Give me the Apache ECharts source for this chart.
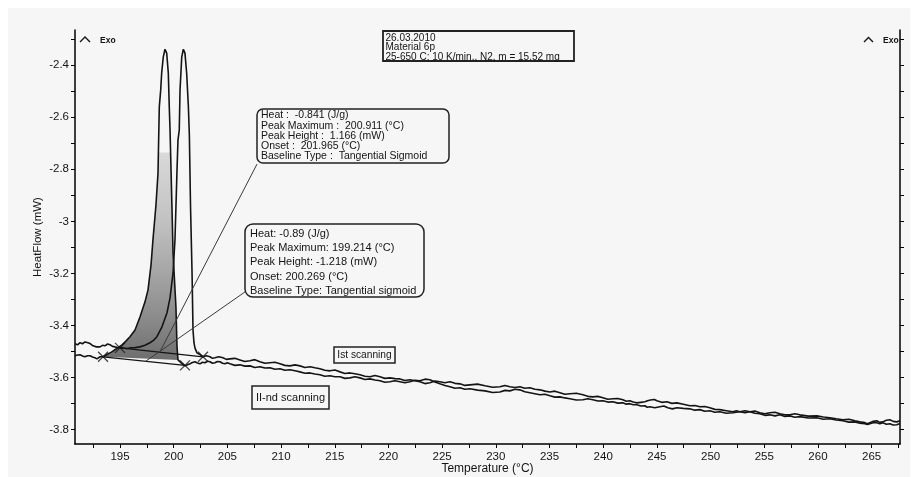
<!DOCTYPE html>
<html>
<head>
<meta charset="utf-8">
<title>DSC – Material 6p</title>
<script src="https://cdn.jsdelivr.net/npm/echarts@6/dist/echarts.min.js"></script>
<style>
  html, body { margin: 0; padding: 0; background: #ffffff; }
  #chart { width: 915px; height: 477px; }
</style>
</head>
<body>
<div id="chart"></div>
<script>
// Axis ticks and labels
const xLabelValues = [195, 200, 205, 210, 215, 220, 225, 230, 235, 240, 245, 250, 255, 260, 265];
const xTickValues = [192.5, 195, 197.5, 200, 202.5, 205, 207.5, 210, 212.5, 215, 217.5, 220, 222.5, 225, 227.5,
  230, 232.5, 235, 237.5, 240, 242.5, 245, 247.5, 250, 252.5, 255, 257.5, 260, 262.5, 265, 267.5];
const yLabelValues = [-3.8, -3.6, -3.4, -3.2, -3, -2.8, -2.6, -2.4];
const yTickValues = [-3.8, -3.7, -3.6, -3.5, -3.4, -3.3, -3.2, -3.1, -3, -2.9, -2.8, -2.7, -2.6, -2.5, -2.4, -2.3];

// Ist scanning: temperature (°C) and heat flow (mW)
const scanITemp = [190.81,191.05,191.28,191.51,191.74,192.02,192.25,192.49,192.80,193.14,193.37,193.60,193.84,194.07,194.30,194.53,194.90,195.28,195.60,195.93,196.40,196.86,197.33,197.79,198.12,198.44,198.91,199.38,199.66,199.94,200.12,200.21,200.31,200.40,200.52,200.59,200.75,200.90,201.05,201.21,201.37,201.46,201.57,201.71,201.80,201.89,201.98,202.17,202.45,202.73,203.05,203.38,203.61,203.84,204.20,204.59,204.90,205.24,205.70,206.17,206.63,207.10,207.56,208.03,208.50,208.97,209.43,209.90,210.36,210.83,211.30,211.76,212.22,212.69,213.15,213.62,214.08,214.55,215.02,215.49,215.95,216.42,216.88,217.35,217.81,218.28,218.75,219.21,219.67,220.14,220.60,221.07,221.53,222.00,222.46,222.93,223.40,223.86,224.33,224.79,225.26,225.73,226.20,226.66,227.12,227.59,228.30,228.99,229.70,230.38,230.85,231.31,231.78,232.24,232.70,233.17,233.64,234.11,234.57,235.04,235.50,235.97,236.43,236.90,237.50,238.11,238.57,239.04,239.50,239.97,240.43,240.90,241.36,241.83,242.15,242.48,242.80,243.14,243.50,243.88,244.20,244.53,244.77,245.00,245.46,245.93,246.40,246.86,247.46,248.07,248.53,249.00,249.46,249.93,250.40,250.86,251.47,252.08,252.40,252.73,253.20,253.66,254.12,254.59,255.05,255.52,256.00,256.45,256.92,257.38,257.85,258.32,259.10,259.90,260.50,261.11,261.70,262.32,262.88,263.44,263.90,264.37,264.60,264.83,265.15,265.48,265.76,266.04,266.37,266.70,267.00,267.34,267.64];
const scanIFlow = [-3.470,-3.474,-3.466,-3.470,-3.463,-3.466,-3.470,-3.478,-3.482,-3.482,-3.476,-3.478,-3.471,-3.474,-3.480,-3.482,-3.485,-3.486,-3.488,-3.486,-3.485,-3.482,-3.476,-3.466,-3.457,-3.443,-3.405,-3.351,-3.294,-3.198,-3.071,-2.945,-2.803,-2.688,-2.649,-2.496,-2.369,-2.339,-2.354,-2.431,-2.561,-2.669,-2.945,-3.198,-3.417,-3.466,-3.486,-3.505,-3.512,-3.520,-3.516,-3.520,-3.526,-3.524,-3.520,-3.524,-3.530,-3.528,-3.526,-3.532,-3.538,-3.535,-3.531,-3.539,-3.545,-3.543,-3.541,-3.547,-3.553,-3.555,-3.551,-3.555,-3.561,-3.558,-3.562,-3.566,-3.572,-3.574,-3.571,-3.578,-3.584,-3.582,-3.585,-3.589,-3.595,-3.597,-3.592,-3.597,-3.603,-3.601,-3.604,-3.605,-3.611,-3.608,-3.612,-3.616,-3.623,-3.620,-3.613,-3.616,-3.620,-3.616,-3.622,-3.624,-3.630,-3.628,-3.625,-3.631,-3.637,-3.635,-3.630,-3.635,-3.638,-3.635,-3.641,-3.639,-3.645,-3.647,-3.652,-3.655,-3.652,-3.658,-3.664,-3.662,-3.660,-3.666,-3.672,-3.674,-3.672,-3.677,-3.683,-3.681,-3.680,-3.685,-3.691,-3.689,-3.694,-3.697,-3.695,-3.693,-3.688,-3.685,-3.684,-3.689,-3.695,-3.693,-3.699,-3.697,-3.702,-3.708,-3.707,-3.712,-3.711,-3.716,-3.722,-3.723,-3.727,-3.731,-3.727,-3.731,-3.735,-3.731,-3.728,-3.735,-3.739,-3.735,-3.733,-3.739,-3.743,-3.743,-3.739,-3.743,-3.748,-3.747,-3.751,-3.754,-3.758,-3.762,-3.760,-3.766,-3.770,-3.773,-3.777,-3.773,-3.768,-3.766,-3.772,-3.770,-3.764,-3.762,-3.768,-3.770,-3.766];

// II-nd scanning: temperature (°C) and heat flow (mW)
const scanIITemp = [190.81,191.05,191.28,191.51,191.74,191.98,192.21,192.44,192.67,192.86,193.00,193.14,193.42,193.65,193.88,194.20,194.53,194.86,195.19,195.55,195.93,196.40,196.86,197.33,197.61,197.89,198.07,198.35,198.54,198.66,198.79,198.88,199.03,199.19,199.35,199.50,199.59,199.66,199.84,199.94,200.21,200.31,200.40,200.68,201.05,201.28,201.52,201.75,201.98,202.21,202.45,202.68,202.91,203.15,203.38,203.61,203.84,204.07,204.31,204.55,204.78,205.00,205.24,205.70,206.17,206.63,207.10,207.56,208.03,208.50,208.97,209.43,209.90,210.36,210.83,211.30,211.76,212.22,212.69,213.15,213.62,214.08,214.55,215.02,215.49,215.95,216.42,216.88,217.35,217.81,218.28,218.75,219.21,219.67,220.14,220.60,221.07,221.53,222.00,222.46,222.93,223.40,223.86,224.33,224.79,225.26,225.73,226.20,226.66,227.12,227.59,228.30,228.99,229.70,230.38,230.85,231.31,231.78,232.24,232.70,233.17,233.64,234.11,234.57,235.04,235.50,235.97,236.43,236.90,237.50,238.11,238.57,239.04,239.50,239.97,240.43,240.90,241.36,241.83,242.15,242.48,242.80,243.14,243.50,243.88,244.10,244.35,244.80,245.28,245.65,246.02,246.44,246.86,247.46,248.07,248.53,249.00,249.46,249.93,250.40,250.86,251.47,252.08,252.40,252.73,253.20,253.66,254.12,254.59,255.05,255.52,256.00,256.45,256.92,257.38,257.85,258.32,259.10,259.90,260.50,261.11,261.70,262.32,262.88,263.44,263.90,264.37,264.60,264.83,265.15,265.48,265.76,266.04,266.37,266.70,267.00,267.34,267.64];
const scanIIFlow = [-3.516,-3.513,-3.512,-3.517,-3.520,-3.516,-3.516,-3.521,-3.524,-3.528,-3.523,-3.520,-3.520,-3.515,-3.509,-3.502,-3.493,-3.484,-3.474,-3.460,-3.443,-3.417,-3.367,-3.309,-3.263,-3.167,-3.071,-2.937,-2.814,-2.561,-2.496,-2.431,-2.369,-2.339,-2.354,-2.431,-2.561,-2.649,-2.945,-3.121,-3.328,-3.482,-3.532,-3.543,-3.555,-3.551,-3.547,-3.542,-3.539,-3.544,-3.547,-3.541,-3.543,-3.537,-3.539,-3.545,-3.543,-3.538,-3.539,-3.545,-3.547,-3.543,-3.547,-3.553,-3.551,-3.556,-3.555,-3.561,-3.558,-3.563,-3.562,-3.568,-3.566,-3.572,-3.570,-3.574,-3.578,-3.583,-3.582,-3.586,-3.589,-3.595,-3.593,-3.597,-3.597,-3.603,-3.601,-3.597,-3.601,-3.607,-3.605,-3.609,-3.612,-3.618,-3.616,-3.612,-3.616,-3.620,-3.616,-3.610,-3.612,-3.606,-3.608,-3.617,-3.624,-3.630,-3.635,-3.641,-3.639,-3.645,-3.643,-3.648,-3.651,-3.657,-3.655,-3.649,-3.651,-3.645,-3.647,-3.654,-3.658,-3.662,-3.666,-3.664,-3.670,-3.675,-3.674,-3.678,-3.681,-3.686,-3.685,-3.681,-3.685,-3.690,-3.689,-3.694,-3.693,-3.698,-3.697,-3.702,-3.700,-3.704,-3.704,-3.709,-3.708,-3.714,-3.712,-3.716,-3.712,-3.709,-3.716,-3.720,-3.716,-3.718,-3.720,-3.725,-3.723,-3.729,-3.727,-3.733,-3.731,-3.737,-3.735,-3.733,-3.731,-3.727,-3.731,-3.737,-3.739,-3.745,-3.743,-3.747,-3.743,-3.749,-3.747,-3.752,-3.750,-3.755,-3.754,-3.760,-3.758,-3.763,-3.766,-3.771,-3.770,-3.775,-3.777,-3.780,-3.777,-3.773,-3.773,-3.777,-3.773,-3.779,-3.777,-3.782,-3.781,-3.776];

// Integration limits (start, end) of each evaluated peak
const peakIILimitTemp = [193.42, 201.05];
const peakIILimitFlow = [-3.520, -3.553];
const peakILimitTemp = [195.00, 202.73];
const peakILimitFlow = [-3.486, -3.520];

// Leader lines from the result boxes to the peaks
const leaderITemp = [207.76, 198.72];
const leaderIFlow = [-2.780, -3.501];
const leaderIITemp = [206.64, 197.33];
const leaderIIFlow = [-3.271, -3.539];

// Evaluation texts
const infoLines = ['26.03.2010', 'Material 6p', '25-650 C; 10 K/min., N2, m = 15.52 mg'];
const peakIResult = ['Heat :  -0.841 (J/g)', 'Peak Maximum :  200.911 (°C)', 'Peak Height :  1.166 (mW)',
  'Onset :  201.965 (°C)', 'Baseline Type :  Tangential Sigmoid'];
const peakIIResult = ['Heat: -0.89 (J/g)', 'Peak Maximum: 199.214 (°C)', 'Peak Height: -1.218 (mW)',
  'Onset: 200.269 (°C)', 'Baseline Type: Tangential sigmoid'];

const FONT = '"Liberation Sans", Arial, sans-serif';
const INK = '#141414';
const BG = '#f6f6f6';

function pairs(xs, ys) { return xs.map((x, i) => [x, ys[i]]); }

// area of the 199.2 °C peak between the curve and its integration line
const fillPoints = pairs(scanIITemp, scanIIFlow).filter(p => p[0] >= 193.42 && p[0] <= 200.40);

const chart = echarts.init(document.getElementById('chart'), null, { renderer: 'canvas' });

function textBlock(lines, x, y0, step, size) {
  return lines.map((t, i) => ({
    type: 'text', x: x, y: y0 + i * step, z: 50,
    style: { text: t, font: size + 'px ' + FONT, fill: INK, textVerticalAlign: 'middle' }
  }));
}

const xMin = 190.81, xMax = 267.64, yMin = -3.855, yMax = -2.265;

const crossPath = 'path://M0,0L10,10M10,0L0,10';

chart.setOption({
  backgroundColor: '#ffffff',
  animation: false,
  grid: { left: 75, right: 15, top: 30, bottom: 33, containLabel: false, outerBoundsMode: 'none' },
  xAxis: {
    type: 'value', min: xMin, max: xMax,
    name: 'Temperature (°C)', nameLocation: 'middle', nameGap: 25, nameMoveOverlap: false,
    nameTextStyle: { fontFamily: FONT, fontSize: 12, color: INK, verticalAlign: 'middle' },
    axisLine: { show: true, onZero: false, lineStyle: { color: '#000', width: 1.5 } },
    axisTick: { show: true, length: 4, customValues: xTickValues, lineStyle: { color: '#000' } },
    axisLabel: { customValues: xLabelValues, margin: 7, fontFamily: FONT, fontSize: 11.5, color: INK },
    splitLine: { show: false }
  },
  yAxis: [{
    type: 'value', min: yMin, max: yMax,
    name: 'HeatFlow (mW)', nameLocation: 'middle', nameGap: 31, nameRotate: 90, nameMoveOverlap: false,
    nameTextStyle: { fontFamily: FONT, fontSize: 11.5, color: INK },
    axisLine: { show: true, onZero: false, lineStyle: { color: '#000', width: 1.5 } },
    axisTick: { show: true, length: 4, customValues: yTickValues, lineStyle: { color: '#000' } },
    axisLabel: {
      customValues: yLabelValues, margin: 6, fontFamily: FONT, fontSize: 11.5, color: INK,
      formatter: v => String(+(+v).toFixed(1))
    },
    splitLine: { show: false }
  }, {
    type: 'value', min: yMin, max: yMax, position: 'right',
    axisLine: { show: true, onZero: false, lineStyle: { color: '#000', width: 1.5 } },
    axisTick: { show: true, length: 4, customValues: yTickValues, lineStyle: { color: '#000' } },
    axisLabel: { show: false },
    splitLine: { show: false }
  }],
  series: [
    {
      // shaded peak area
      type: 'custom', z: 1, silent: true,
      data: [fillPoints[0]],
      renderItem: function (params, api) {
        const pts = fillPoints.map(p => api.coord(p));
        return {
          type: 'polygon',
          shape: { points: pts },
          style: {
            fill: new echarts.graphic.LinearGradient(0, 0, 0, 1, [
              { offset: 0, color: BG }, { offset: 0.33, color: BG },
              { offset: 0.335, color: '#d9d9d9' }, { offset: 0.55, color: '#c2c2c2' },
              { offset: 0.75, color: '#a0a0a0' }, { offset: 0.88, color: '#888888' },
              { offset: 1, color: '#6e6e6e' }
            ]),
            stroke: null
          }
        };
      }
    },
    {
      name: 'II-nd scanning', type: 'line', z: 3, showSymbol: false, silent: true,
      data: pairs(scanIITemp, scanIIFlow),
      lineStyle: { color: INK, width: 1.6 }
    },
    {
      name: 'Ist scanning', type: 'line', z: 3, showSymbol: false, silent: true,
      data: pairs(scanITemp, scanIFlow),
      lineStyle: { color: INK, width: 1.6 }
    },
    {
      type: 'line', z: 3, showSymbol: false, silent: true,
      data: pairs(peakIILimitTemp, peakIILimitFlow),
      lineStyle: { color: INK, width: 1.3 }
    },
    {
      type: 'line', z: 3, showSymbol: false, silent: true,
      data: pairs(peakILimitTemp, peakILimitFlow),
      lineStyle: { color: INK, width: 1.3 }
    },
    {
      type: 'scatter', z: 4, silent: true,
      symbol: crossPath, symbolSize: 10,
      itemStyle: { color: 'none', borderColor: INK, borderWidth: 1.2 },
      data: pairs(peakIILimitTemp.concat(peakILimitTemp), peakIILimitFlow.concat(peakILimitFlow))
    },
    {
      type: 'line', z: 3, showSymbol: false, silent: true,
      data: pairs(leaderITemp, leaderIFlow),
      lineStyle: { color: '#3a3a3a', width: 1 }
    },
    {
      type: 'line', z: 3, showSymbol: false, silent: true,
      data: pairs(leaderIITemp, leaderIIFlow),
      lineStyle: { color: '#3a3a3a', width: 1 }
    }
  ],
  graphic: {
    elements: [
      { type: 'rect', z: -100, shape: { x: 8, y: 8, width: 902, height: 469 }, style: { fill: BG } },
      // Exo markers
      { type: 'polyline', z: 50, shape: { points: [[80, 42], [85, 37], [90, 42]] }, style: { stroke: INK, lineWidth: 1.4, fill: null } },
      { type: 'text', z: 50, x: 100, y: 41, style: { text: 'Exo', font: 'bold 8.5px ' + FONT, fill: INK, textVerticalAlign: 'middle' } },
      { type: 'polyline', z: 50, shape: { points: [[864, 42], [868.5, 37.5], [873, 42]] }, style: { stroke: INK, lineWidth: 1.4, fill: null } },
      { type: 'text', z: 50, x: 883, y: 41, style: { text: 'Exo', font: 'bold 8.5px ' + FONT, fill: INK, textVerticalAlign: 'middle' } },
      // measurement info
      { type: 'rect', z: 40, shape: { x: 383, y: 31, width: 191, height: 30 }, style: { fill: BG, stroke: '#222', lineWidth: 1.8 } },
      ...textBlock(infoLines, 385.5, 38.5, 9.2, 10),
      // result of the 200.9 °C peak
      { type: 'rect', z: 40, shape: { x: 257, y: 109, width: 192, height: 54, r: 6 }, style: { fill: BG, stroke: '#222', lineWidth: 1.5 } },
      ...textBlock(peakIResult, 261, 115.5, 10.2, 10.5),
      // result of the 199.2 °C peak
      { type: 'rect', z: 40, shape: { x: 245, y: 224, width: 179, height: 73, r: 8 }, style: { fill: BG, stroke: '#222', lineWidth: 1.5 } },
      ...textBlock(peakIIResult, 250, 234, 14.2, 11),
      // scan labels
      { type: 'rect', z: 40, shape: { x: 334, y: 347, width: 61, height: 16 }, style: { fill: BG, stroke: '#222', lineWidth: 1.5 } },
      { type: 'text', z: 50, x: 364.5, y: 355, style: { text: 'Ist scanning', font: '10.2px ' + FONT, fill: INK, textAlign: 'center', textVerticalAlign: 'middle' } },
      { type: 'rect', z: 40, shape: { x: 252, y: 386, width: 77, height: 23 }, style: { fill: BG, stroke: '#222', lineWidth: 1.5 } },
      { type: 'text', z: 50, x: 290.5, y: 397.5, style: { text: 'II-nd scanning', font: '11px ' + FONT, fill: INK, textAlign: 'center', textVerticalAlign: 'middle' } }
    ]
  }
});
</script>
</body>
</html>
